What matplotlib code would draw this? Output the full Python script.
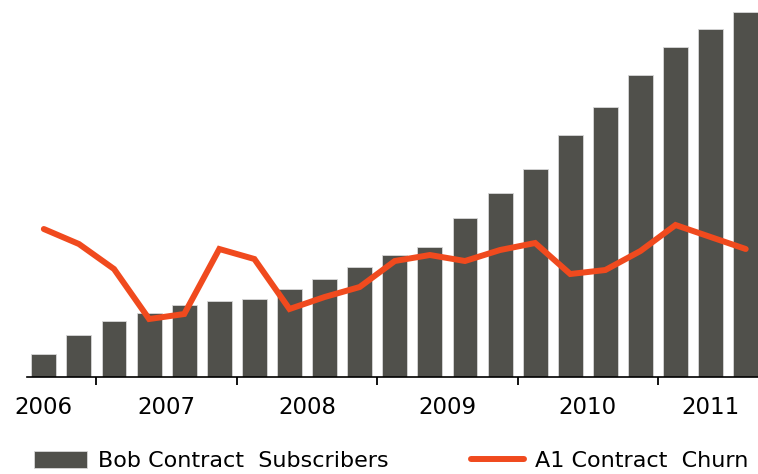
import numpy as np
import matplotlib.pyplot as plt

# quarterly values, Q1 2006 .. Q1 2011
subscribers = [92, 168, 224, 256, 288, 304, 312, 352, 392, 440, 488,
               520, 636, 736, 832, 968, 1080, 1208, 1320, 1392, 1460]
churn = [1.48, 1.33, 1.08, 0.58, 0.63, 1.28, 1.18, 0.68, 0.80, 0.90, 1.16,
         1.22, 1.16, 1.27, 1.34, 1.03, 1.07, 1.26, 1.52, 1.40, 1.28]
years = ['2006', '2007', '2008', '2009', '2010', '2011']
year_pos = [0, 3.5, 7.5, 11.5, 15.5, 19]
year_ticks = [1.5, 5.5, 9.5, 13.5, 17.5]

bar_color = '#50504b'
line_color = '#f04a1e'

plt.rcParams['font.family'] = ['DejaVu Sans']

fig = plt.figure(figsize=(7.58, 4.74), dpi=100)
ax = fig.add_axes([0.0356, 0.2046, 0.9644, 0.7954])
x = np.arange(len(subscribers))

bars = ax.bar(x, subscribers, width=0.71, color=bar_color,
              edgecolor='#d8d8d8', linewidth=0.6, label='Bob Contract  Subscribers')
ax.set_xlim(-0.48, 20.35)
ax.set_ylim(0, 1508)

for s in ['top', 'right', 'left']:
    ax.spines[s].set_visible(False)
ax.spines['bottom'].set_linewidth(1.2)
ax.set_yticks([])

ax.set_xticks(year_ticks)
ax.set_xticklabels([])
ax.tick_params(axis='x', which='major', direction='out', length=6, width=1.3)
ax.set_xticks(year_pos, minor=True)
ax.set_xticklabels(years, minor=True)
ax.tick_params(axis='x', which='minor', length=0, labelsize=16.5, pad=13.5)

ax2 = ax.twinx()
line, = ax2.plot(x, churn, color=line_color, linewidth=4.3,
                 solid_capstyle='round', solid_joinstyle='miter',
                 label='A1 Contract  Churn')
ax2.set_ylim(0, 3.77)
ax2.set_yticks([])
for s in ax2.spines.values():
    s.set_visible(False)

fig.legend([bars, line], ['Bob Contract  Subscribers', 'A1 Contract  Churn'],
           loc='lower left', bbox_to_anchor=(0.024, -0.027), ncol=2,
           frameon=False, fontsize=16, handlelength=2.4, handleheight=0.8,
           handletextpad=0.5, columnspacing=3.7, borderpad=0.2)

plt.savefig('out.png', dpi=100)
plt.close()
